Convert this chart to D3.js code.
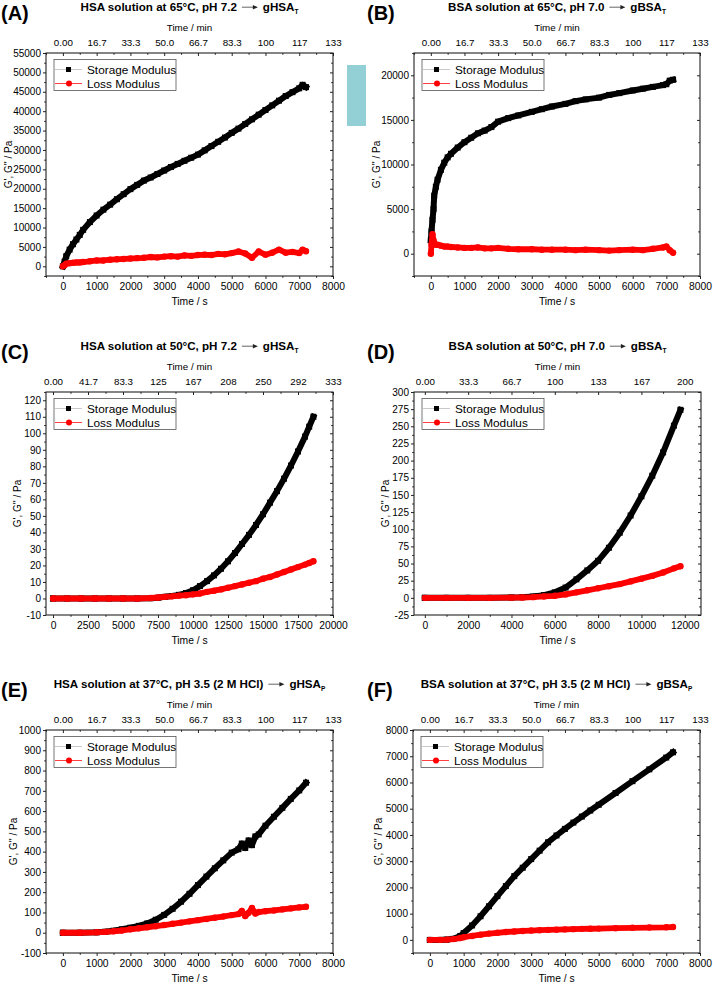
<!DOCTYPE html>
<html><head><meta charset="utf-8">
<script src="https://cdn.jsdelivr.net/npm/d3@7/dist/d3.min.js"></script>
<style>
body{margin:0;background:#fff}
svg{display:block}
text{font-family:"Liberation Sans",Arial,sans-serif;fill:#000}
</style>
</head><body>
<svg id="c" width="713" height="985"></svg>
<script>
// ---------------- DATA ----------------
// Panel A: HSA 65°C pH 7.2
const timeA    = [0,50,100,200,300,400,500,600,800,1000,1200,1400,1600,1800,2000,2200,2400,2600,2800,3000,3200,3400,3600,3800,4000,4200,4400,4600,4800,5000,5200,5400,5600,5800,6000,6200,6400,6600,6800,7000,7100,7200];
const storageA = [0,1200,2600,4300,5700,6900,8100,9400,11400,13100,14600,15900,17300,18600,19900,21000,22100,22900,23800,24700,25600,26400,27200,28000,28800,29900,31000,32100,33200,34400,35500,36700,37900,39100,40300,41500,42700,43900,44900,45900,46800,46200];
const lossA    = [0,300,700,800,900,1000,1000,1100,1300,1500,1500,1700,1800,1900,2000,2100,2200,2400,2300,2500,2600,2500,2800,2700,2900,3000,2900,3200,3100,3400,3800,3300,2200,3800,3000,3500,4300,3500,3700,3400,4300,3900];
// Panel B: BSA 65°C pH 7.0
const timeB    = [0,20,50,80,100,150,200,300,400,500,600,800,1000,1200,1400,1600,1800,2000,2300,2600,3000,3300,3600,4000,4300,4600,5000,5300,5600,6000,6300,6600,6900,7000,7100,7200];
const storageB = [1500,2500,3800,5000,6500,7500,8300,9400,10200,10800,11200,11900,12500,13000,13500,13800,14200,14800,15200,15500,15900,16200,16500,16800,17100,17300,17500,17800,18000,18300,18500,18700,18900,19000,19400,19500];
const lossB    = [0,1000,2200,1500,1200,1000,1000,900,800,800,750,700,650,650,700,600,600,650,550,500,500,450,450,450,400,450,400,350,400,450,400,550,700,800,400,100];
// Panel C: HSA 50°C pH 7.2
const timeC    = [0,1000,2000,3000,4000,5000,6000,7000,7500,8000,8500,9000,9500,10000,10500,11000,11500,12000,12500,13000,13500,14000,14500,15000,15500,16000,16500,17000,17500,18000,18300,18600];
const storageC = [0,0,0,0,0,0,0,0.2,0.5,1,1.5,2.2,3.3,5,7.5,10.5,14,18,22.5,27.5,33,38.5,44.5,51,58,65,72.5,80.5,89,98,104,110];
const lossC    = [0,0,0,0,0,0,0,0.3,0.6,1,1.3,1.7,2,2.5,3,4,4.7,5.5,6.5,7.5,8.5,9.5,10.5,12,13,14.5,16,17.5,19,20.5,21.5,22.5];
// Panel D: BSA 50°C pH 7.0
const timeD    = [0,1000,2000,3000,4000,4500,5000,5500,6000,6500,7000,7500,8000,8500,9000,9500,10000,10500,11000,11500,11800];
const storageD = [0,0,0,0,0.5,1,2,4,8,15,27,40,54,73,95,120,148,178,212,251,274];
const lossD    = [0,0,0,0,0.3,0.5,1,2,3,5,8,11,14,17,20,24,28,32,37,43,46];
// Panel E: HSA 37°C pH 3.5
const timeE    = [0,500,1000,1250,1500,1750,2000,2250,2500,2750,3000,3250,3500,3750,4000,4250,4500,4750,5000,5200,5300,5400,5500,5600,5700,5800,6000,6250,6500,6750,7000,7200];
const storageE = [0,0,2,5,10,17,25,34,46,64,88,118,153,192,235,277,318,357,395,412,440,418,455,432,475,485,528,572,616,660,702,740];
const lossE    = [0,0,2,4,7,11,17,22,27,32,38,44,50,56,62,68,74,80,87,92,108,82,98,122,95,102,106,110,115,120,125,128];
// Panel F: BSA 37°C pH 3.5
const timeF    = [0,300,500,700,900,1000,1250,1500,1750,2000,2250,2500,2750,3000,3250,3500,3750,4000,4250,4500,4750,5000,5500,6000,6500,7000,7200];
const storageF = [0,0,10,40,150,260,550,900,1280,1670,2050,2430,2750,3080,3400,3720,3980,4230,4470,4700,4930,5150,5600,6050,6500,6950,7150];
const lossF    = [0,0,10,30,70,100,150,200,240,270,300,320,340,355,370,380,390,400,410,420,425,430,445,460,470,480,490];

// Tick labels
const xTicks8000  = [0,1000,2000,3000,4000,5000,6000,7000,8000];
const xTicks20000 = [0,2500,5000,7500,10000,12500,15000,17500,20000];
const xTicks12000 = [0,2000,4000,6000,8000,10000,12000];
const topLabels120 = ["0.00","16.7","33.3","50.0","66.7","83.3","100","117","133"];
const topLabelsC   = ["0.00","41.7","83.3","125","167","208","250","292","333"];
const topLabelsD   = ["0.00","33.3","66.7","100","133","167","200"];
const yTicksA = [0,5000,10000,15000,20000,25000,30000,35000,40000,45000,50000,55000];
const yTicksB = [0,5000,10000,15000,20000];
const yTicksC = [-10,0,10,20,30,40,50,60,70,80,90,100,110,120];
const yTicksD = [-25,0,25,50,75,100,125,150,175,200,225,250,275,300];
const yTicksE = [-100,0,100,200,300,400,500,600,700,800,900,1000];
const yTicksF = [0,1000,2000,3000,4000,5000,6000,7000,8000];

const seriesNames = ["Storage Modulus","Loss Modulus"];

// ---------------- LAYOUT ----------------
const panels = [
 {letter:"(A)", title:"HSA solution at 65°C, pH 7.2", prod:"gHSA", sub:"T", t:timeA, s:storageA, l:lossA,
  xd:[-500,8000], yd:[-2500,55000], xt:xTicks8000, top:topLabels120, yt:yTicksA, box:{l:46,r:333,t:53,b:276}, ylx:37},
 {letter:"(B)", title:"BSA solution at 65°C, pH 7.0", prod:"gBSA", sub:"T", t:timeB, s:storageB, l:lossB,
  xd:[-500,8000], yd:[-2500,22500], xt:xTicks8000, top:topLabels120, yt:yTicksB, box:{l:414,r:700,t:53,b:276}, ylx:37},
 {letter:"(C)", title:"HSA solution at 50°C, pH 7.2", prod:"gHSA", sub:"T", t:timeC, s:storageC, l:lossC,
  xd:[-500,20000], yd:[-10,125], xt:xTicks20000, top:topLabelsC, yt:yTicksC, box:{l:46,r:333,t:392,b:615}, ylx:28},
 {letter:"(D)", title:"BSA solution at 50°C, pH 7.0", prod:"gBSA", sub:"T", t:timeD, s:storageD, l:lossD,
  xd:[-500,12750], yd:[-25,300], xt:xTicks12000, top:topLabelsD, yt:yTicksD, box:{l:414,r:701,t:392,b:615}, ylx:28},
 {letter:"(E)", title:"HSA solution at 37°C, pH 3.5 (2 M HCl)", prod:"gHSA", sub:"P", t:timeE, s:storageE, l:lossE,
  xd:[-500,8000], yd:[-100,1000], xt:xTicks8000, top:topLabels120, yt:yTicksE, box:{l:46,r:333,t:730,b:953}, ylx:32},
 {letter:"(F)", title:"BSA solution at 37°C, pH 3.5 (2 M HCl)", prod:"gBSA", sub:"P", t:timeF, s:storageF, l:lossF,
  xd:[-500,8000], yd:[-500,8000], xt:xTicks8000, top:topLabels120, yt:yTicksF, box:{l:413,r:700,t:730,b:953}, ylx:34}
];

const svg = d3.select("#c");

// decorative teal block between A and B
svg.append("rect").attr("x",347).attr("y",65).attr("width",19).attr("height",61).attr("fill","#93d0d5");

function minorOf(ticks, dom){
  const step = ticks[1]-ticks[0], out=[];
  for(let v=ticks[0]-step/2; v<=dom[1]; v+=step/2){ if(v>=dom[0] && !ticks.includes(v)) out.push(v); }
  return out;
}

panels.forEach(p=>{
  const b=p.box;
  const x=d3.scaleLinear().domain(p.xd).range([b.l,b.r]);
  const y=d3.scaleLinear().domain(p.yd).range([b.b,b.t]);
  const g=svg.append("g");
  const fmt=d=>String(d);

  // axes
  const xMinor=minorOf(p.xt,p.xd), yMinor=minorOf(p.yt,p.yd);
  const ax=g.append("g").attr("transform",`translate(0,${b.b})`)
    .call(d3.axisBottom(x).tickValues(p.xt).tickSize(3).tickPadding(3.2).tickFormat(fmt));
  g.append("g").attr("transform",`translate(0,${b.b})`).call(d3.axisBottom(x).tickValues(xMinor).tickSize(1.8).tickFormat(""));
  const at=g.append("g").attr("transform",`translate(0,${b.t})`)
    .call(d3.axisTop(x).tickValues(p.xt).tickSize(-3).tickPadding(7).tickFormat((d,i)=>p.top[i]));
  g.append("g").attr("transform",`translate(0,${b.t})`).call(d3.axisTop(x).tickValues(xMinor).tickSize(-1.8).tickFormat(""));
  const al=g.append("g").attr("transform",`translate(${b.l},0)`)
    .call(d3.axisLeft(y).tickValues(p.yt).tickSize(3).tickPadding(2).tickFormat(fmt));
  g.append("g").attr("transform",`translate(${b.l},0)`).call(d3.axisLeft(y).tickValues(yMinor).tickSize(1.8).tickFormat(""));
  g.append("g").attr("transform",`translate(${b.r},0)`).call(d3.axisRight(y).tickValues(p.yt).tickSize(-3).tickFormat(""));
  g.append("g").attr("transform",`translate(${b.r},0)`).call(d3.axisRight(y).tickValues(yMinor).tickSize(-1.8).tickFormat(""));
  g.selectAll(".domain").remove();
  g.selectAll(".tick line").attr("stroke","#222").attr("stroke-width",1);
  ax.selectAll("text").attr("font-size",10.3).attr("font-family","Liberation Sans, Arial, sans-serif");
  at.selectAll("text").attr("font-size",9.8).attr("font-family","Liberation Sans, Arial, sans-serif");
  al.selectAll("text").attr("font-size",10).attr("font-family","Liberation Sans, Arial, sans-serif");

  g.append("rect").attr("x",b.l).attr("y",b.t).attr("width",b.r-b.l).attr("height",b.b-b.t)
    .attr("fill","none").attr("stroke","#222").attr("stroke-width",1.1);

  // axis titles
  g.append("text").attr("x",(b.l+b.r)/2).attr("y",b.b+29).attr("text-anchor","middle").attr("font-size",10.3).text("Time / s");
  g.append("text").attr("x",(b.l+b.r)/2).attr("y",b.t-22.5).attr("text-anchor","middle").attr("font-size",9.8).text("Time / min");
  g.append("text").attr("transform",`translate(${b.l-p.ylx+3},${(b.t+b.b)/2}) rotate(-90)`)
    .attr("text-anchor","middle").attr("font-size",10).text("G', G'' / Pa");

  // panel letter
  g.append("text").attr("x",b.l<100?1:367).attr("y",b.t-33).attr("font-size",20).attr("font-weight","bold").text(p.letter);

  // title with arrow
  const tg=g.append("g");
  const t1=tg.append("text").attr("y",b.t-42).attr("font-size",11.6).attr("font-weight","bold").text(p.title);
  const t2=tg.append("text").attr("y",b.t-42).attr("font-size",11.6).attr("font-weight","bold");
  t2.append("tspan").text(p.prod);
  t2.append("tspan").attr("font-size",6.5).attr("dy",2.5).text(p.sub);
  const w1=t1.node().getComputedTextLength(), w2=t2.node().getComputedTextLength();
  const arrowW=26, total=w1+arrowW+w2, x0=(b.l+b.r)/2-total/2;
  t1.attr("x",x0); t2.attr("x",x0+w1+arrowW);
  const ay=b.t-45.8, ax0=x0+w1+5, ax1=x0+w1+arrowW-5;
  tg.append("line").attr("x1",ax0).attr("x2",ax1-4).attr("y1",ay).attr("y2",ay).attr("stroke","#555").attr("stroke-width",0.9);
  tg.append("path").attr("d",`M${ax1-5},${ay-2.2}L${ax1},${ay}L${ax1-5},${ay+2.2}Z`).attr("fill","#222");

  // data
  const line=d3.line().x(d=>x(d[0])).y(d=>y(d[1])).curve(d3.curveLinear);
  const sData=p.t.map((tt,i)=>[tt,p.s[i]]);
  const lData=p.t.map((tt,i)=>[tt,p.l[i]]);
  const dg=g.append("g");
  dg.append("path").datum(sData).attr("d",line).attr("fill","none").attr("stroke","#000").attr("stroke-width",6).attr("stroke-linejoin","round").attr("stroke-linecap","square");
  dg.selectAll("rect.s").data(sData).enter().append("rect").attr("class","s")
    .attr("x",d=>x(d[0])-3).attr("y",d=>y(d[1])-3).attr("width",6).attr("height",6).attr("fill","#000");
  dg.append("path").datum(lData).attr("d",line).attr("fill","none").attr("stroke","#ff0000").attr("stroke-width",5.8).attr("stroke-linejoin","round").attr("stroke-linecap","round");
  dg.selectAll("circle.l").data(lData).enter().append("circle").attr("class","l")
    .attr("cx",d=>x(d[0])).attr("cy",d=>y(d[1])).attr("r",3.2).attr("fill","#ff0000");

  // legend
  const lg=g.append("g").attr("transform",`translate(${b.l+8},${b.t+6.5})`);
  lg.append("rect").attr("width",122).attr("height",31).attr("fill","#fff").attr("stroke","#555").attr("stroke-width",0.8);
  lg.append("line").attr("x1",1).attr("x2",28).attr("y1",10).attr("y2",10).attr("stroke","#bbb").attr("stroke-width",0.8);
  lg.append("rect").attr("x",12).attr("y",7.5).attr("width",5).attr("height",5).attr("fill","#000");
  lg.append("text").attr("x",33).attr("y",14.5).attr("font-size",11.8).text(seriesNames[0]);
  lg.append("line").attr("x1",1).attr("x2",28).attr("y1",24).attr("y2",24).attr("stroke","#ff4040").attr("stroke-width",1);
  lg.append("circle").attr("cx",15).attr("cy",24).attr("r",3).attr("fill","#ff0000");
  lg.append("text").attr("x",33).attr("y",28.3).attr("font-size",11.8).text(seriesNames[1]);
});
</script>
</body></html>
